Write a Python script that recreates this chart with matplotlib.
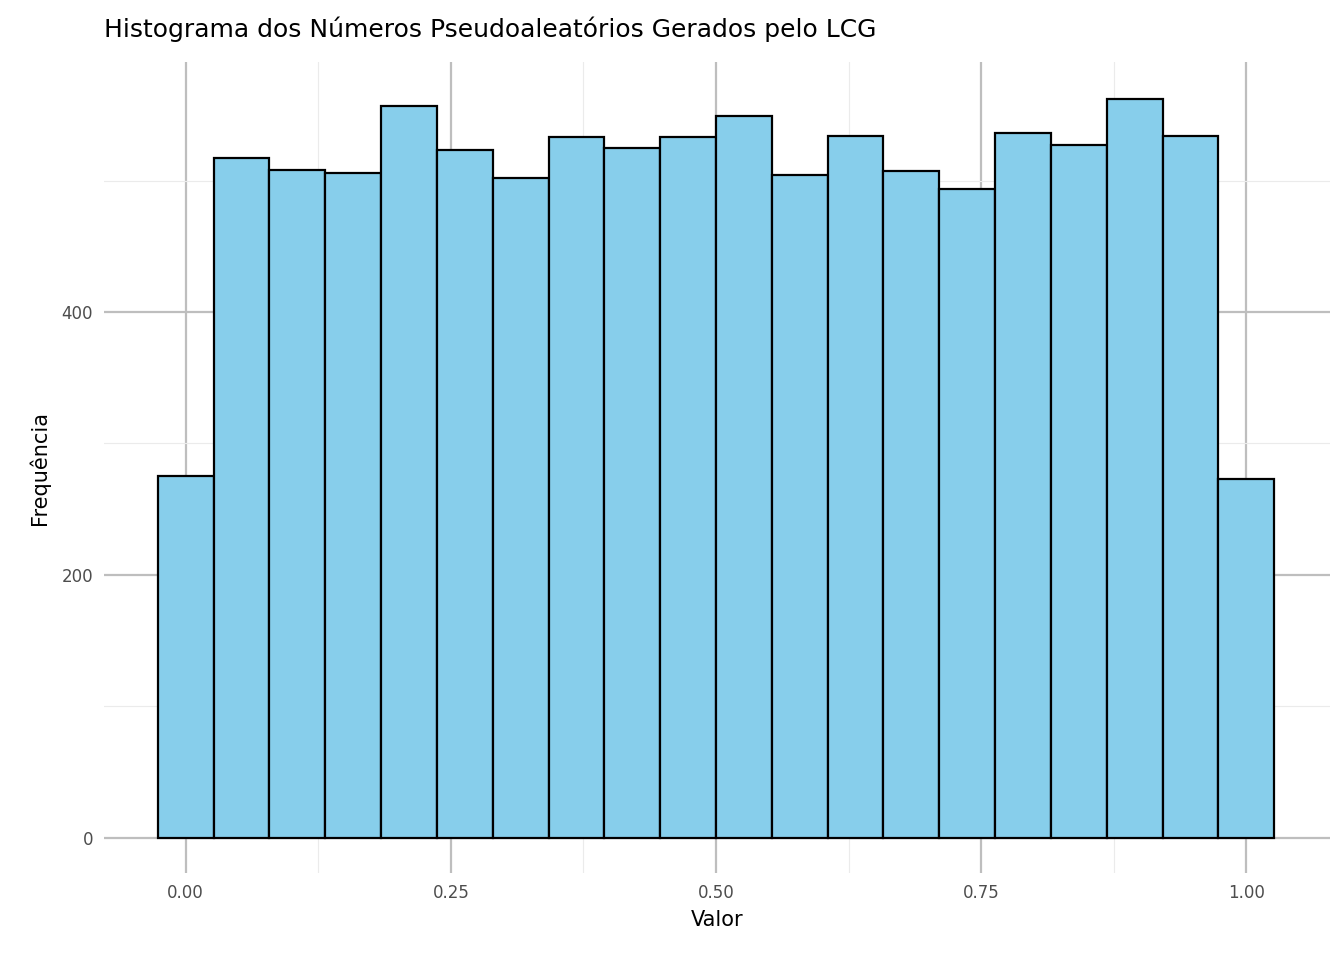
import numpy as np
import matplotlib
matplotlib.use("Agg")
import matplotlib.pyplot as plt

# histogram bins (20 bins, width 1/19, centred on 0 .. 1)
counts = [275, 517, 508, 506, 557, 523, 502, 533, 525, 533,
          549, 504, 534, 507, 494, 536, 527, 562, 534, 273]
nbins = len(counts)
width = 1 / (nbins - 1)
centers = np.arange(nbins) * width

fig = plt.figure(figsize=(13.44, 9.6), dpi=100)
ax = fig.add_axes([0.0774, 0.0906, 0.9122, 0.8444])

ax.bar(centers, counts, width=width, color="#87CEEB", edgecolor="black",
       linewidth=1.6, zorder=3)

ax.set_xlim(-0.077, 1.079)
ax.set_ylim(-27, 590)
ax.set_xticks([0, 0.25, 0.5, 0.75, 1.0])
ax.set_xticklabels(["0.00", "0.25", "0.50", "0.75", "1.00"])
ax.set_yticks([0, 200, 400])
ax.set_xticks([0.125, 0.375, 0.625, 0.875], minor=True)
ax.set_yticks([100, 300, 500], minor=True)
ax.grid(which="major", color="#bebebe", linewidth=1.6, zorder=0)
ax.grid(which="minor", color="#ebebeb", linewidth=0.8, zorder=0)
ax.tick_params(which="both", length=0, labelsize=12, colors="#4d4d4d", pad=8)
for s in ax.spines.values():
    s.set_visible(False)

ax.set_xlabel("Valor", fontsize=15, labelpad=6)
ax.set_ylabel("Frequência", fontsize=15, labelpad=8)
fig.text(0.0774, 0.97, "Histograma dos Números Pseudoaleatórios Gerados pelo LCG",
         fontsize=18, va="center", ha="left")

fig.savefig("out.png", dpi=100)
